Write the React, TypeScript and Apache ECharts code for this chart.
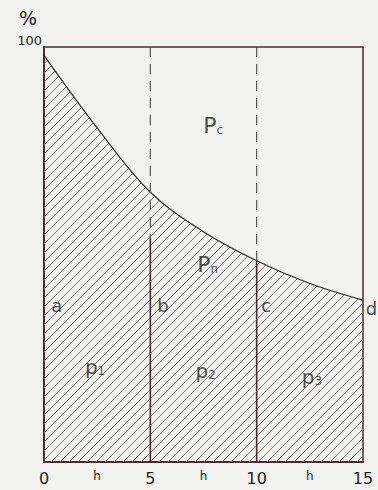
import React, { useEffect, useRef } from "react";
import * as echarts from "echarts";

// Curve bounding the hatched area (x in units of h-steps 0..15, y in %)
const curveX = [0, 2.5, 5, 7.5, 10, 12.5, 15];
const curveY = [98, 80.5, 65, 55.5, 48.5, 43, 39];

// x-axis tick labels
const xTicks = [0, 5, 10, 15];
const stepLabel = "h";
const yTopLabel = "100";
const yUnit = "%";

// Dividing ordinates
const ordX = [5, 10];
const ordSolidTop = [54, 48.5];

// Annotations [x, y, text]
const notesX = [0.6, 5.6, 10.45, 15.4, 2.4, 7.6, 12.6, 7.7, 7.95];
const notesY = [37.6, 37.6, 37.6, 37, 22.9, 22, 20.5, 47.5, 81];
const notesText = ["a", "b", "c", "d", "{p|p}{s|1}", "{p|p}{s|2}", "{p|p}{s|3}", "{P|P}{s|n}", "{P|P}{s|c}"];

const INK = "#4a2a36";
const HATCH = "#666";
const TXT = "#222";

const tileSvg =
  "<svg xmlns='http://www.w3.org/2000/svg' width='9' height='9'>" +
  "<path d='M-1,10 L10,-1 M-1,1 L1,-1 M8,10 L10,8' stroke='" + HATCH + "' stroke-width='0.9' fill='none'/></svg>";
const tileUrl = "data:image/svg+xml;base64," + btoa(tileSvg);

export default function App() {
  const ref = useRef<HTMLDivElement>(null);
  useEffect(() => {
    if (!ref.current) return;
    const chart = echarts.init(ref.current, undefined, { renderer: "svg" });
    const font = "DejaVu Sans";
    const series: any[] = [
      {
        type: "line",
        data: curveX.map((x, i) => [x, curveY[i]]),
        smooth: 0.35,
        symbol: "none",
        lineStyle: { color: "#2e2a2c", width: 1.2 },
        areaStyle: {
          color: { image: tileUrl, repeat: "repeat", imageWidth: 9, imageHeight: 9 } as any,
          opacity: 1,
        },
        z: 2,
      },
    ];
    ordX.forEach((x, i) => {
      series.push({
        type: "line",
        data: [[x, 100], [x, ordSolidTop[i]]],
        symbol: "none",
        lineStyle: { color: "#555", width: 1.2, type: [10, 7] },
        z: 3,
      });
      series.push({
        type: "line",
        data: [[x, ordSolidTop[i]], [x, 0]],
        symbol: "none",
        lineStyle: { color: INK, width: 1.6 },
        z: 3,
      });
    });
    series.push({
      type: "scatter",
      symbolSize: 0,
      clip: false,
      data: notesX.map((x, i) => [x, notesY[i], notesText[i]]),
      label: {
        show: true,
        position: "inside",
        formatter: (p: any) => p.data[2],
        color: TXT,
        fontFamily: font,
        fontSize: 18,
        textBorderWidth: 0,
        rich: {
          p: { fontSize: 20, fontFamily: font, color: TXT },
          P: { fontSize: 22, fontFamily: font, color: TXT },
          s: { fontSize: 12, fontFamily: font, color: TXT, padding: [9, 0, 0, 0] },
        },
      },
      z: 5,
    });

    chart.setOption({
      animation: false,
      backgroundColor: "#f2f2f0",
      grid: {
        left: 44,
        right: 15,
        top: 47,
        bottom: 28,
        show: true,
        borderColor: INK,
        borderWidth: 1.5,
        backgroundColor: "transparent",
      },
      xAxis: {
        type: "value",
        min: 0,
        max: 15,
        interval: 2.5,
        axisLine: { show: true, lineStyle: { color: INK, width: 2 } },
        axisTick: { show: false },
        splitLine: { show: false },
        axisLabel: {
          margin: 8,
          color: TXT,
          fontFamily: font,
          fontSize: 16,
          formatter: (v: number) =>
            xTicks.indexOf(v) >= 0 ? String(v) : "{h|" + stepLabel + "}",
          rich: { h: { fontSize: 12, fontFamily: font, color: TXT, padding: [0, 0, 6, 0] } },
        },
      },
      yAxis: {
        type: "value",
        min: 0,
        max: 100,
        interval: 100,
        name: yUnit,
        nameLocation: "end",
        nameGap: 20,
        nameTextStyle: {
          fontSize: 19,
          fontFamily: font,
          color: TXT,
          align: "center",
          padding: [0, 32, 0, 0],
        },
        axisLine: { show: true, lineStyle: { color: INK, width: 2 } },
        axisTick: { show: false },
        splitLine: { show: false },
        axisLabel: {
          margin: 2,
          color: TXT,
          fontFamily: font,
          fontSize: 13,
          verticalAlign: "bottom",
          formatter: (v: number) => (v === 100 ? yTopLabel : ""),
        },
      },
      series,
    });
    return () => chart.dispose();
  }, []);
  return (
    <div
      ref={ref}
      style={{ position: "fixed", left: 0, top: 0, width: 378, height: 490 }}
    />
  );
}
